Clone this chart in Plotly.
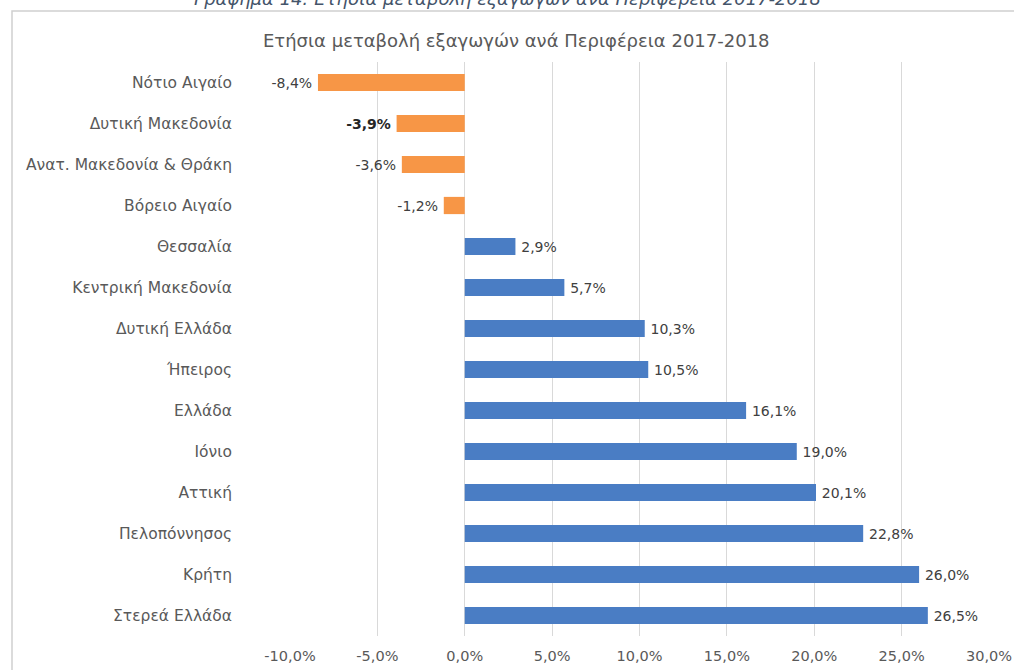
import plotly.graph_objects as go

regions = ["Νότιο Αιγαίο", "Δυτική Μακεδονία", "Ανατ. Μακεδονία & Θράκη", "Βόρειο Αιγαίο",
           "Θεσσαλία", "Κεντρική Μακεδονία", "Δυτική Ελλάδα", "Ήπειρος", "Ελλάδα", "Ιόνιο",
           "Αττική", "Πελοπόννησος", "Κρήτη", "Στερεά Ελλάδα"]
change = [-8.4, -3.9, -3.6, -1.2, 2.9, 5.7, 10.3, 10.5, 16.1, 19.0, 20.1, 22.8, 26.0, 26.5]
tick_vals = [-10, -5, 0, 5, 10, 15, 20, 25, 30]
tick_text = ["-10,0%", "-5,0%", "0,0%", "5,0%", "10,0%", "15,0%", "20,0%", "25,0%", "30,0%"]
bold_region = "Δυτική Μακεδονία"

FONT = "DejaVu Sans, sans-serif"

colors = ["#F79646" if v < 0 else "#4A7DC4" for v in change]
labels = []
for r, v in zip(regions, change):
    s = f"{v:.1f}".replace(".", ",") + "%"
    if r == bold_region:
        s = f"<b><span style='color:#262626'>{s}</span></b>"
    labels.append(s + "\u2009" if v < 0 else "\u2009" + s)

W, H = 1014, 670
L, R, T, B = 290, 25, 61.5, 33.5
pw, ph = W - L - R, H - T - B

def px(x):
    return (x - L) / pw

def py(y):
    return 1 - (y - T) / ph

fig = go.Figure(go.Bar(
    y=regions, x=change, orientation="h",
    marker=dict(color=colors, line=dict(width=0)),
    width=0.42,
    text=labels, textposition="outside", cliponaxis=False,
    textfont=dict(family=FONT, size=14, color="#404040"),
    hoverinfo="skip",
))

fig.update_layout(
    width=W, height=H,
    margin=dict(l=L, r=R, t=T, b=B),
    paper_bgcolor="white", plot_bgcolor="white",
    showlegend=False,
    font=dict(family=FONT, color="#595959"),
    xaxis=dict(range=[-10, 30], tickvals=tick_vals, ticktext=tick_text,
               showgrid=True, gridcolor="#D9D9D9", gridwidth=1,
               zeroline=False, showline=False, ticks="", automargin=False,
               tickfont=dict(family=FONT, size=14.5, color="#595959"), ticklabelstandoff=9,
               fixedrange=True),
    yaxis=dict(categoryorder="array", categoryarray=regions, autorange="reversed",
               showgrid=False, zeroline=False, showline=False, ticks="", automargin=False,
               tickfont=dict(family=FONT, size=15.5, color="#595959"), ticklabelstandoff=57,
               fixedrange=True),
    annotations=[
        dict(text="Ετήσια μεταβολή εξαγωγών ανά Περιφέρεια 2017-2018",
             xref="paper", yref="paper", x=px(516), y=py(40),
             xanchor="center", yanchor="middle", showarrow=False,
             font=dict(family=FONT, size=18, color="#595959")),
        dict(text="<i>Γράφημα 14: Ετήσια μεταβολή εξαγωγών ανά Περιφέρεια 2017-2018</i>",
             xref="paper", yref="paper", x=px(507), y=py(-2),
             xanchor="center", yanchor="middle", showarrow=False,
             font=dict(family=FONT, size=18, color="#44546A")),
    ],
    shapes=[
        dict(type="rect", xref="paper", yref="paper",
             x0=px(12), x1=px(1030), y0=py(690), y1=py(10.5),
             line=dict(color="#D0D0D0", width=1.5), fillcolor="rgba(0,0,0,0)", layer="below"),
    ],
)

fig.write_html("out.html", config={"displayModeBar": False},
               post_script="document.body.style.margin='0';document.body.style.overflow='hidden';")
